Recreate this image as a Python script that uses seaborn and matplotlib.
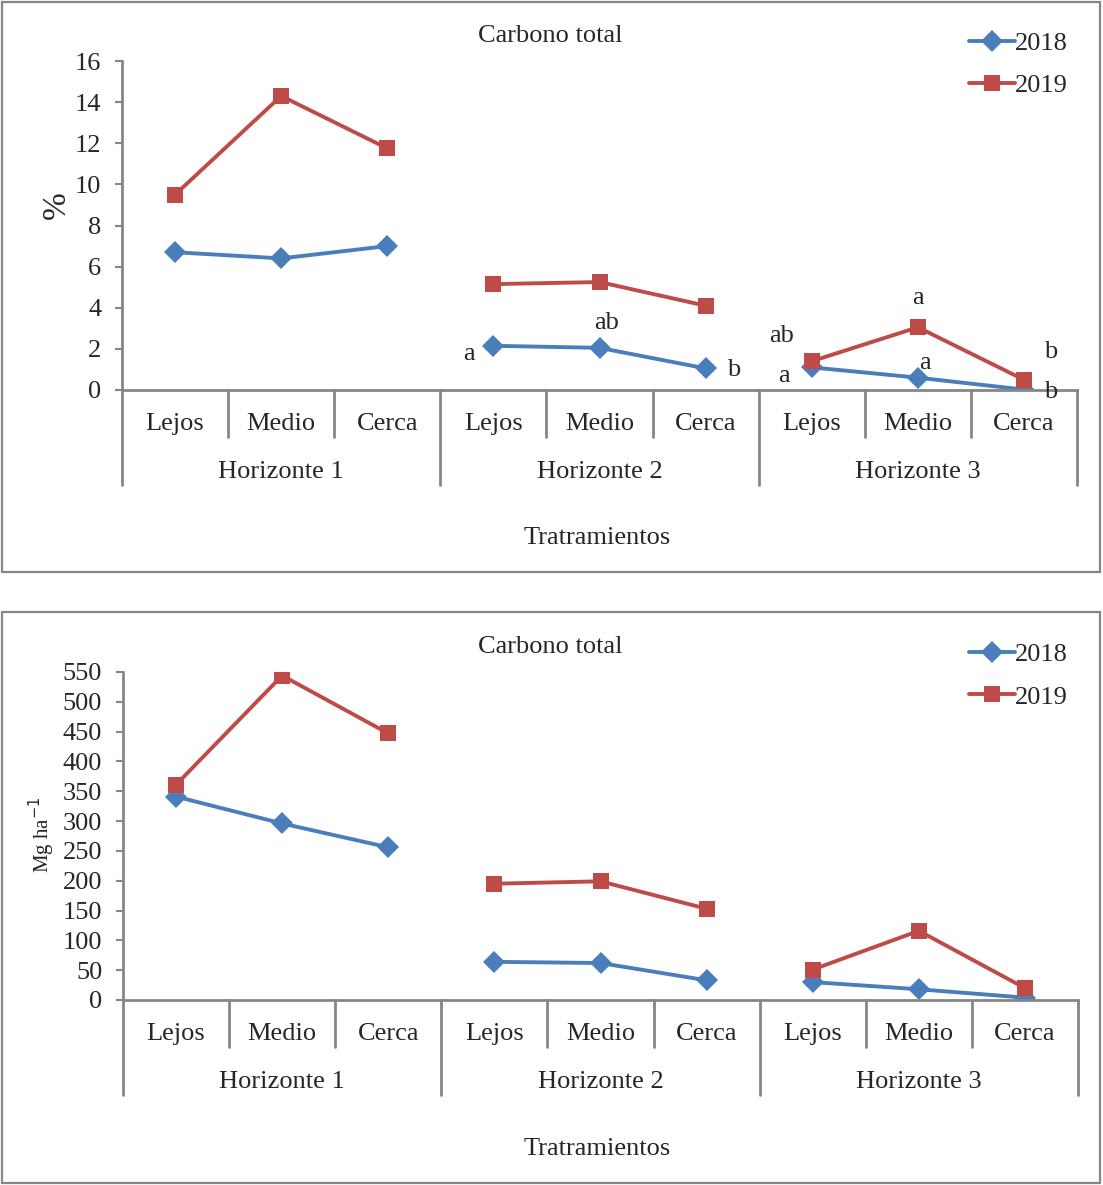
import numpy as np
import pandas as pd
import matplotlib
matplotlib.use("Agg")
import matplotlib.pyplot as plt
import matplotlib.transforms as mtransforms
from matplotlib.patches import Rectangle
import seaborn as sns

# data
tratamientos = ["Lejos", "Medio", "Cerca"]
horizontes = ["Horizonte 1", "Horizonte 2", "Horizonte 3"]
years = ["2018", "2019"]

pct_2018 = [6.7, 6.4, 7.0, 2.15, 2.05, 1.05, 1.1, 0.6, 0.02]
pct_2019 = [9.5, 14.3, 11.75, 5.15, 5.25, 4.1, 1.4, 3.05, 0.5]
mg_2018 = [341, 296, 256, 64, 62, 33, 30, 18, 4]
mg_2019 = [361, 544, 447, 195, 199, 153, 51, 116, 20]

# significance letters (year, position, letter, dx px, dy px)
letters = [
    ("2018", 3, "a", -24, -8),
    ("2018", 4, "ab", 7, 25),
    ("2018", 5, "b", 28, -2),
    ("2019", 6, "ab", -30, 25),
    ("2018", 6, "a", -28, -9),
    ("2019", 7, "a", 0, 29),
    ("2018", 7, "a", 7, 15),
    ("2019", 8, "b", 27, 28),
    ("2018", 8, "b", 27, -2),
]

W, H = 1103, 1185
sns.set_style("white")
plt.rcParams["font.family"] = ["Liberation Serif", "DejaVu Serif"]
FS = 19
GRAY = "#868686"
palette = {"2018": "#4A7EBB", "2019": "#BE4B48"}
markers = {"2018": "D", "2019": "s"}


def make_df(v18, v19):
    rows = []
    for yr, vals in zip(years, [v18, v19]):
        for i, v in enumerate(vals):
            rows.append({"pos": i, "valor": v, "year": yr, "horizonte": i // 3})
    return pd.DataFrame(rows)


def px_axes(left, top, right, bottom):
    return [left / W, 1 - bottom / H, (right - left) / W, (bottom - top) / H]


fig = plt.figure(figsize=(W / 100, H / 100), dpi=100)

panels = [
    dict(box=(2, 2, 1100, 572), ax=(122, 61, 1077, 390), df=make_df(pct_2018, pct_2019),
         ylim=(0, 16), step=2, ylabel="%", ylab_xy=(57, 205), ylab_fs=24,
         title_y=36, xlab_y=538, leg_y=21, ann=True),
    dict(box=(2, 612, 1100, 1183), ax=(123, 672, 1078, 1000), df=make_df(mg_2018, mg_2019),
         ylim=(0, 550), step=50, ylabel="Mg ha$^{-1}$", ylab_xy=(42, 835), ylab_fs=15,
         title_y=647, xlab_y=1149, leg_y=632, ann=False),
]

for p in panels:
    bx = p["box"]
    fig.patches.append(Rectangle((bx[0] / W, 1 - bx[3] / H), (bx[2] - bx[0]) / W,
                                 (bx[3] - bx[1]) / H, transform=fig.transFigure,
                                 fill=False, edgecolor=GRAY, linewidth=1.6))
    l, t, r, b = p["ax"]
    ax = fig.add_axes(px_axes(l, t, r, b))
    ax.set_facecolor("none")
    df = p["df"]
    sns.lineplot(data=df, x="pos", y="valor", hue="year", style="year",
                 units="horizonte", estimator=None, markers=markers, dashes=False,
                 palette=palette, linewidth=2.8, markersize=11, markeredgewidth=0,
                 ax=ax, legend=False)
    for line in ax.lines:
        if line.get_marker() == "s":
            line.set_markersize(12)
    ax.set_xlim(-0.5, 8.5)
    ax.set_ylim(*p["ylim"])
    ax.set_yticks(np.arange(p["ylim"][0], p["ylim"][1] + p["step"] / 2, p["step"]))
    ax.set_xticks([])
    ax.set_xlabel("")
    ax.set_ylabel("")
    ax.tick_params(axis="y", labelsize=FS, left=True, length=5, color=GRAY, width=1.5, pad=10)
    for s in ["top", "right"]:
        ax.spines[s].set_visible(False)
    for s in ["left", "bottom"]:
        ax.spines[s].set_color(GRAY)
        ax.spines[s].set_linewidth(2)

    # category axis below the plot
    hpx = b - t
    trans = mtransforms.blended_transform_factory(ax.transData, ax.transAxes)
    for k in range(10):
        depth = 95 if k % 3 == 0 else 47
        ax.plot([k - 0.5, k - 0.5], [0, -depth / hpx], color=GRAY, lw=2,
                transform=trans, clip_on=False)
    for i in range(9):
        ax.text(i, -34 / hpx, tratamientos[i % 3], transform=trans, ha="center",
                va="center", fontsize=FS)
    for g, name in enumerate(horizontes):
        ax.text(g * 3 + 1, -82 / hpx, name, transform=trans, ha="center",
                va="center", fontsize=FS)

    if p["ann"]:
        series = {"2018": pct_2018, "2019": pct_2019}
        for yr, i, txt, dx, dy in letters:
            ax.annotate(txt, xy=(i, series[yr][i]), xytext=(dx, dy),
                        textcoords="offset pixels", ha="center", va="center",
                        fontsize=FS, annotation_clip=False)

    fig.text(550 / W, 1 - p["title_y"] / H, "Carbono total", ha="center", va="center", fontsize=FS)
    fig.text(597 / W, 1 - p["xlab_y"] / H, "Tratramientos", ha="center", va="center", fontsize=FS)
    fig.text(p["ylab_xy"][0] / W, 1 - p["ylab_xy"][1] / H, p["ylabel"], rotation=90,
             ha="center", va="center", fontsize=p["ylab_fs"])

    handles = [plt.Line2D([], [], color=palette[yr], marker=markers[yr], lw=2.8,
                          markersize=11 if yr == "2018" else 12, markeredgewidth=0)
               for yr in years]
    fig.legend(handles, years, loc="upper left",
               bbox_to_anchor=(958 / W, 1 - p["leg_y"] / H), frameon=False,
               fontsize=FS, handlelength=1.75, handletextpad=0.0, labelspacing=0.72,
               borderaxespad=0)

fig.savefig("out.png", dpi=100)
